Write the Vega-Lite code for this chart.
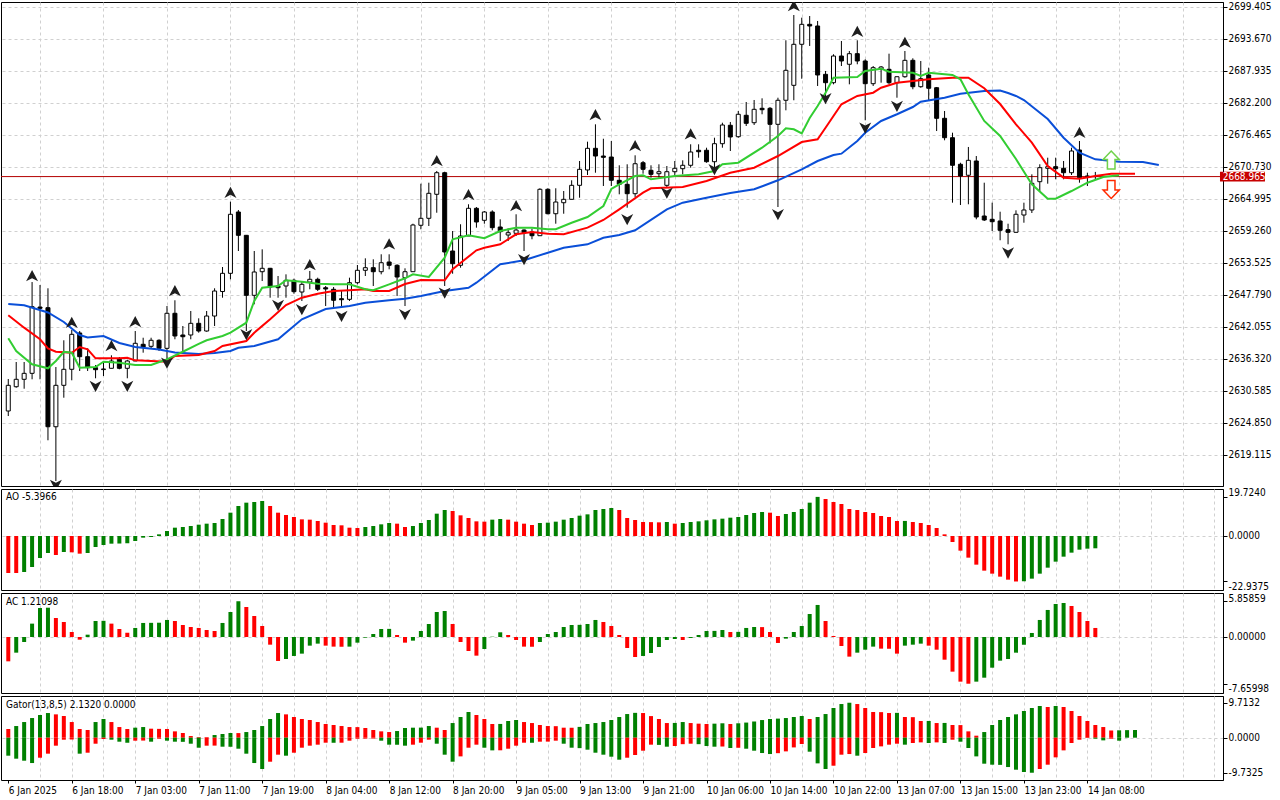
{
  "$schema": "https://vega.github.io/schema/vega-lite/v6.json",
  "background": "white",
  "padding": {"left": 0, "top": 1, "right": 0, "bottom": 0},
  "spacing": 3,
  "bounds": "flush",
  "config": {
    "view": {"stroke": "black", "strokeWidth": 1},
    "axis": {"labelFont": "DejaVu Sans Condensed, Liberation Sans, sans-serif", "labelFontSize": 10, "labelColor": "black", "domainColor": "black", "tickColor": "black", "gridColor": "#d0d0d0", "gridDash": [3, 3], "labelFlush": false, "labelOverlap": false, "labelSeparation": 0},
    "axisY": {"labelOverlap": false, "labelSeparation": 0},
    "axisQuantitative": {"labelOverlap": false},
    "locale": {"number": {"decimal": ".", "thousands": ",", "grouping": [3], "currency": ["$", ""], "minus": "-"}}
  },
  "resolve": {"scale": {"x": "independent", "y": "independent", "color": "independent", "shape": "independent", "stroke": "independent"}},
  "datasets": {
    "candles": [
      {"i":0,"o":2626.96,"h":2632.69,"l":2626.06,"c":2631.56},{"i":1,"o":2631.31,"h":2635.74,"l":2631.13,"c":2632.64},{"i":2,"o":2632.64,"h":2635.74,"l":2630.95,"c":2633.71},{"i":3,"o":2633.71,"h":2650.07,"l":2632.64,"c":2645.65},{"i":4,"o":2645.59,"h":2649.54,"l":2632.64,"c":2645.36},{"i":5,"o":2645.47,"h":2648.95,"l":2621.71,"c":2624.14},{"i":6,"o":2624.14,"h":2634.84,"l":2614.41,"c":2631.56},{"i":7,"o":2631.56,"h":2639.63,"l":2629.34,"c":2634.43},{"i":8,"o":2634.43,"h":2641.47,"l":2632.46,"c":2640.70},{"i":9,"o":2640.94,"h":2641.29,"l":2634.13,"c":2636.69},
      {"i":10,"o":2636.69,"h":2638.19,"l":2634.13,"c":2634.72},{"i":11,"o":2634.72,"h":2635.20,"l":2632.82,"c":2634.36},{"i":12,"o":2634.38,"h":2635.61,"l":2633.23,"c":2634.49},{"i":13,"o":2634.61,"h":2636.94,"l":2634.61,"c":2635.92},{"i":14,"o":2636.22,"h":2636.63,"l":2634.43,"c":2634.61},{"i":15,"o":2634.61,"h":2636.15,"l":2632.82,"c":2635.92},{"i":16,"o":2635.92,"h":2641.29,"l":2635.92,"c":2639.09},{"i":17,"o":2638.91,"h":2640.09,"l":2637.41,"c":2638.43},{"i":18,"o":2638.55,"h":2640.09,"l":2638.19,"c":2639.63},{"i":19,"o":2639.63,"h":2639.81,"l":2637.71,"c":2638.19},
      {"i":20,"o":2638.19,"h":2645.77,"l":2635.33,"c":2644.47},{"i":21,"o":2644.47,"h":2646.80,"l":2639.81,"c":2640.40},{"i":22,"o":2640.58,"h":2642.19,"l":2637.71,"c":2640.27},{"i":23,"o":2640.58,"h":2644.88,"l":2639.81,"c":2642.67},{"i":24,"o":2642.67,"h":2643.57,"l":2640.99,"c":2641.29},{"i":25,"o":2641.29,"h":2644.88,"l":2641.17,"c":2643.98},{"i":26,"o":2643.98,"h":2648.95,"l":2642.19,"c":2648.46},{"i":27,"o":2648.37,"h":2652.76,"l":2647.26,"c":2651.63},{"i":28,"o":2651.63,"h":2664.46,"l":2650.56,"c":2662.21},{"i":29,"o":2662.62,"h":2662.98,"l":2655.63,"c":2658.44},
      {"i":30,"o":2658.44,"h":2658.50,"l":2641.29,"c":2647.69},{"i":31,"o":2647.69,"h":2655.63,"l":2646.08,"c":2651.87},{"i":32,"o":2651.92,"h":2655.93,"l":2650.25,"c":2652.53},{"i":33,"o":2652.53,"h":2652.60,"l":2647.26,"c":2649.18},{"i":34,"o":2649.36,"h":2651.15,"l":2647.26,"c":2649.05},{"i":35,"o":2649.36,"h":2651.45,"l":2647.26,"c":2650.38},{"i":36,"o":2650.38,"h":2650.67,"l":2647.98,"c":2648.34},{"i":37,"o":2648.28,"h":2650.25,"l":2646.67,"c":2649.66},{"i":38,"o":2650.07,"h":2652.05,"l":2648.77,"c":2650.56},{"i":39,"o":2650.56,"h":2650.85,"l":2648.46,"c":2648.77},
      {"i":40,"o":2649.05,"h":2649.36,"l":2645.77,"c":2648.82},{"i":41,"o":2648.77,"h":2649.18,"l":2645.47,"c":2646.80},{"i":42,"o":2647.08,"h":2648.46,"l":2645.47,"c":2646.90},{"i":43,"o":2646.97,"h":2650.85,"l":2646.67,"c":2649.95},{"i":44,"o":2649.95,"h":2653.12,"l":2649.66,"c":2652.17},{"i":45,"o":2652.17,"h":2654.32,"l":2651.15,"c":2652.64},{"i":46,"o":2652.64,"h":2654.14,"l":2649.36,"c":2651.92},{"i":47,"o":2651.92,"h":2655.04,"l":2651.45,"c":2653.53},{"i":48,"o":2653.66,"h":2655.04,"l":2652.35,"c":2653.07},{"i":49,"o":2653.07,"h":2653.25,"l":2647.57,"c":2650.97},
      {"i":50,"o":2650.85,"h":2652.53,"l":2645.77,"c":2651.92},{"i":51,"o":2651.92,"h":2660.52,"l":2651.92,"c":2660.29},{"i":52,"o":2660.24,"h":2667.69,"l":2659.52,"c":2661.49},{"i":53,"o":2661.49,"h":2667.87,"l":2660.11,"c":2665.97},{"i":54,"o":2665.79,"h":2669.97,"l":2662.49,"c":2669.66},{"i":55,"o":2669.66,"h":2669.84,"l":2649.36,"c":2655.45},{"i":56,"o":2655.63,"h":2659.21,"l":2651.56,"c":2653.35},{"i":57,"o":2653.07,"h":2660.42,"l":2652.64,"c":2658.32},{"i":58,"o":2658.32,"h":2664.00,"l":2658.32,"c":2663.28},{"i":59,"o":2663.28,"h":2663.51,"l":2659.81,"c":2660.83},
      {"i":60,"o":2661.13,"h":2662.80,"l":2660.52,"c":2662.62},{"i":61,"o":2662.62,"h":2662.92,"l":2659.34,"c":2659.81},{"i":62,"o":2659.93,"h":2661.31,"l":2657.42,"c":2659.09},{"i":63,"o":2658.50,"h":2659.70,"l":2657.42,"c":2658.91},{"i":64,"o":2658.80,"h":2662.21,"l":2658.32,"c":2659.39},{"i":65,"o":2659.39,"h":2659.52,"l":2655.63,"c":2658.91},{"i":66,"o":2659.03,"h":2659.63,"l":2657.73,"c":2658.37},{"i":67,"o":2658.37,"h":2666.87,"l":2658.37,"c":2666.69},{"i":68,"o":2666.69,"h":2666.87,"l":2662.21,"c":2662.31},{"i":69,"o":2662.31,"h":2666.87,"l":2660.52,"c":2664.41},
      {"i":70,"o":2664.28,"h":2666.38,"l":2662.31,"c":2664.89},{"i":71,"o":2664.89,"h":2668.30,"l":2664.89,"c":2667.40},{"i":72,"o":2667.40,"h":2671.76,"l":2665.18,"c":2670.27},{"i":73,"o":2670.15,"h":2675.22,"l":2669.25,"c":2674.03},{"i":74,"o":2674.03,"h":2678.33,"l":2669.66,"c":2672.65},{"i":75,"o":2672.65,"h":2675.75,"l":2667.28,"c":2672.42},{"i":76,"o":2672.47,"h":2675.34,"l":2667.28,"c":2668.30},{"i":77,"o":2668.30,"h":2670.99,"l":2665.79,"c":2667.58},{"i":78,"o":2667.58,"h":2671.17,"l":2663.39,"c":2665.90},{"i":79,"o":2665.90,"h":2672.78,"l":2665.31,"c":2671.27},
      {"i":80,"o":2671.45,"h":2671.76,"l":2669.48,"c":2670.27},{"i":81,"o":2670.09,"h":2670.99,"l":2668.77,"c":2669.37},{"i":82,"o":2669.48,"h":2671.17,"l":2668.77,"c":2669.84},{"i":83,"o":2667.40,"h":2670.86,"l":2666.97,"c":2669.84},{"i":84,"o":2669.84,"h":2671.76,"l":2669.25,"c":2670.45},{"i":85,"o":2670.38,"h":2671.88,"l":2669.37,"c":2670.99},{"i":86,"o":2670.99,"h":2674.75,"l":2670.56,"c":2673.37},{"i":87,"o":2673.68,"h":2674.75,"l":2672.35,"c":2673.42},{"i":88,"o":2673.68,"h":2674.14,"l":2671.45,"c":2671.63},{"i":89,"o":2671.63,"h":2675.93,"l":2669.97,"c":2674.86},
      {"i":90,"o":2674.86,"h":2678.62,"l":2674.14,"c":2678.21},{"i":91,"o":2678.16,"h":2678.75,"l":2673.55,"c":2676.06},{"i":92,"o":2676.11,"h":2680.72,"l":2675.93,"c":2680.13},{"i":93,"o":2679.95,"h":2682.33,"l":2678.03,"c":2678.51},{"i":94,"o":2678.62,"h":2682.69,"l":2678.21,"c":2681.02},{"i":95,"o":2681.20,"h":2682.99,"l":2680.13,"c":2680.95},{"i":96,"o":2681.20,"h":2681.43,"l":2674.93,"c":2678.33},{"i":97,"o":2678.33,"h":2683.10,"l":2663.51,"c":2682.64},{"i":98,"o":2682.64,"h":2693.39,"l":2680.84,"c":2688.01},{"i":99,"o":2685.32,"h":2697.92,"l":2682.64,"c":2692.67},
      {"i":100,"o":2692.67,"h":2697.44,"l":2686.50,"c":2696.25},{"i":101,"o":2696.25,"h":2697.74,"l":2692.37,"c":2695.95},{"i":102,"o":2695.95,"h":2696.85,"l":2685.20,"c":2687.17},{"i":103,"o":2687.29,"h":2687.89,"l":2682.51,"c":2685.79},{"i":104,"o":2685.79,"h":2690.88,"l":2685.50,"c":2690.57},{"i":105,"o":2690.57,"h":2693.26,"l":2688.78,"c":2689.68},{"i":106,"o":2689.09,"h":2691.47,"l":2685.50,"c":2690.99},{"i":107,"o":2690.99,"h":2693.39,"l":2689.09,"c":2689.68},{"i":108,"o":2689.68,"h":2689.98,"l":2679.05,"c":2685.61},{"i":109,"o":2685.61,"h":2688.78,"l":2685.20,"c":2688.48},
      {"i":110,"o":2688.19,"h":2688.78,"l":2685.79,"c":2688.60},{"i":111,"o":2688.19,"h":2690.99,"l":2685.50,"c":2685.79},{"i":112,"o":2685.79,"h":2686.90,"l":2683.10,"c":2686.86},{"i":113,"o":2686.86,"h":2691.47,"l":2686.69,"c":2689.80},{"i":114,"o":2689.80,"h":2690.16,"l":2684.61,"c":2685.07},{"i":115,"o":2685.07,"h":2689.68,"l":2684.89,"c":2686.51},{"i":116,"o":2687.17,"h":2688.48,"l":2682.51,"c":2684.79},{"i":117,"o":2684.89,"h":2685.02,"l":2677.13,"c":2679.41},{"i":118,"o":2679.41,"h":2680.72,"l":2675.47,"c":2675.93},{"i":119,"o":2675.93,"h":2676.83,"l":2664.29,"c":2670.99},
      {"i":120,"o":2671.17,"h":2671.45,"l":2663.87,"c":2669.07},{"i":121,"o":2669.20,"h":2674.27,"l":2664.00,"c":2671.88},{"i":122,"o":2671.76,"h":2672.65,"l":2661.31,"c":2661.72},{"i":123,"o":2661.90,"h":2667.87,"l":2661.01,"c":2661.19},{"i":124,"o":2661.31,"h":2664.29,"l":2659.21,"c":2660.88},{"i":125,"o":2661.01,"h":2662.67,"l":2657.55,"c":2659.34},{"i":126,"o":2659.45,"h":2660.52,"l":2656.83,"c":2658.98},{"i":127,"o":2658.98,"h":2662.92,"l":2658.91,"c":2662.21},{"i":128,"o":2662.08,"h":2664.29,"l":2660.70,"c":2662.98},{"i":129,"o":2662.98,"h":2669.37,"l":2662.44,"c":2667.76},
      {"i":130,"o":2668.05,"h":2671.17,"l":2666.26,"c":2670.56},{"i":131,"o":2670.45,"h":2672.35,"l":2667.69,"c":2670.74},{"i":132,"o":2670.74,"h":2672.35,"l":2668.48,"c":2670.38},{"i":133,"o":2670.45,"h":2671.76,"l":2668.48,"c":2669.66},{"i":134,"o":2669.66,"h":2674.14,"l":2669.25,"c":2673.55},{"i":135,"o":2673.73,"h":2675.34,"l":2667.87,"c":2668.77},{"i":136,"o":2669.07,"h":2669.66,"l":2667.28,"c":2669.00},{"i":137,"o":2668.98,"h":2669.80,"l":2668.50,"c":2668.965}
    ],
    "alligator": [
      {"line":"jaw","i":0,"v":2646.13},{"line":"jaw","i":2,"v":2645.90},{"line":"jaw","i":5,"v":2644.61},{"line":"jaw","i":7,"v":2642.91},{"line":"jaw","i":9,"v":2640.58},{"line":"jaw","i":10,"v":2640.13},{"line":"jaw","i":12,"v":2640.40},{"line":"jaw","i":14,"v":2639.14},{"line":"jaw","i":16,"v":2638.43},{"line":"jaw","i":19,"v":2637.98},{"line":"jaw","i":21,"v":2637.44},{"line":"jaw","i":24,"v":2637.17},{"line":"jaw","i":26,"v":2637.35},{"line":"jaw","i":28,"v":2637.71},{"line":"jaw","i":29,"v":2638.30},{"line":"jaw","i":31,"v":2638.61},{"line":"jaw","i":34,"v":2639.81},{"line":"jaw","i":37,"v":2643.39},{"line":"jaw","i":40,"v":2645.24},{"line":"jaw","i":43,"v":2645.77},{"line":"jaw","i":45,"v":2646.37},{"line":"jaw","i":48,"v":2646.80},{"line":"jaw","i":50,"v":2647.08},{"line":"jaw","i":52,"v":2647.57},{"line":"jaw","i":55,"v":2648.46},{"line":"jaw","i":58,"v":2649.05},{"line":"jaw","i":59,"v":2649.95},{"line":"jaw","i":62,"v":2653.25},{"line":"jaw","i":65,"v":2653.96},{"line":"jaw","i":68,"v":2655.33},{"line":"jaw","i":70,"v":2656.22},{"line":"jaw","i":73,"v":2656.83},{"line":"jaw","i":75,"v":2658.01},{"line":"jaw","i":77,"v":2658.50},{"line":"jaw","i":79,"v":2659.34},{"line":"jaw","i":83,"v":2663.10},{"line":"jaw","i":85,"v":2664.29},{"line":"jaw","i":88,"v":2665.18},{"line":"jaw","i":91,"v":2666.02},{"line":"jaw","i":94,"v":2666.69},{"line":"jaw","i":97,"v":2668.30},{"line":"jaw","i":100,"v":2670.27},{"line":"jaw","i":102,"v":2671.76},{"line":"jaw","i":104,"v":2672.83},{"line":"jaw","i":105,"v":2673.07},{"line":"jaw","i":107,"v":2675.34},{"line":"jaw","i":108,"v":2676.83},{"line":"jaw","i":110,"v":2678.93},{"line":"jaw","i":112,"v":2680.13},{"line":"jaw","i":114,"v":2681.43},{"line":"jaw","i":115,"v":2682.39},{"line":"jaw","i":118,"v":2683.10},{"line":"jaw","i":120,"v":2683.82},{"line":"jaw","i":123,"v":2684.30},{"line":"jaw","i":125,"v":2684.39},{"line":"jaw","i":126,"v":2683.94},{"line":"jaw","i":127,"v":2683.41},{"line":"jaw","i":128,"v":2682.69},{"line":"jaw","i":131,"v":2679.28},{"line":"jaw","i":133,"v":2675.93},{"line":"jaw","i":135,"v":2673.25},{"line":"jaw","i":137,"v":2672.06},{"line":"jaw","i":140,"v":2671.63},{"line":"jaw","i":143,"v":2671.58},{"line":"jaw","i":145,"v":2671.04},
      {"line":"teeth","i":0,"v":2644.11},{"line":"teeth","i":2,"v":2641.89},{"line":"teeth","i":4,"v":2639.81},{"line":"teeth","i":5,"v":2638.19},{"line":"teeth","i":6,"v":2637.58},{"line":"teeth","i":8,"v":2637.40},{"line":"teeth","i":9,"v":2638.43},{"line":"teeth","i":10,"v":2638.01},{"line":"teeth","i":11,"v":2636.40},{"line":"teeth","i":14,"v":2636.40},{"line":"teeth","i":15,"v":2636.51},{"line":"teeth","i":16,"v":2636.04},{"line":"teeth","i":18,"v":2635.92},{"line":"teeth","i":20,"v":2635.79},{"line":"teeth","i":21,"v":2636.82},{"line":"teeth","i":24,"v":2637.00},{"line":"teeth","i":26,"v":2637.71},{"line":"teeth","i":27,"v":2638.61},{"line":"teeth","i":30,"v":2639.50},{"line":"teeth","i":31,"v":2640.99},{"line":"teeth","i":33,"v":2643.39},{"line":"teeth","i":35,"v":2645.95},{"line":"teeth","i":37,"v":2647.26},{"line":"teeth","i":39,"v":2647.98},{"line":"teeth","i":41,"v":2648.46},{"line":"teeth","i":43,"v":2648.59},{"line":"teeth","i":45,"v":2648.77},{"line":"teeth","i":46,"v":2648.46},{"line":"teeth","i":48,"v":2648.46},{"line":"teeth","i":50,"v":2649.72},{"line":"teeth","i":52,"v":2650.43},{"line":"teeth","i":55,"v":2650.38},{"line":"teeth","i":56,"v":2652.35},{"line":"teeth","i":59,"v":2655.75},{"line":"teeth","i":60,"v":2656.22},{"line":"teeth","i":62,"v":2656.83},{"line":"teeth","i":64,"v":2658.62},{"line":"teeth","i":66,"v":2659.04},{"line":"teeth","i":68,"v":2658.73},{"line":"teeth","i":70,"v":2658.62},{"line":"teeth","i":73,"v":2659.81},{"line":"teeth","i":75,"v":2661.19},{"line":"teeth","i":77,"v":2663.10},{"line":"teeth","i":80,"v":2666.08},{"line":"teeth","i":81,"v":2666.87},{"line":"teeth","i":85,"v":2667.10},{"line":"teeth","i":88,"v":2668.17},{"line":"teeth","i":91,"v":2669.66},{"line":"teeth","i":94,"v":2670.56},{"line":"teeth","i":97,"v":2672.65},{"line":"teeth","i":100,"v":2675.16},{"line":"teeth","i":102,"v":2675.65},{"line":"teeth","i":103,"v":2677.72},{"line":"teeth","i":105,"v":2681.92},{"line":"teeth","i":107,"v":2683.41},{"line":"teeth","i":109,"v":2684.00},{"line":"teeth","i":110,"v":2684.89},{"line":"teeth","i":112,"v":2685.79},{"line":"teeth","i":114,"v":2686.09},{"line":"teeth","i":116,"v":2686.40},{"line":"teeth","i":119,"v":2686.69},{"line":"teeth","i":121,"v":2686.69},{"line":"teeth","i":123,"v":2684.79},{"line":"teeth","i":125,"v":2681.97},{"line":"teeth","i":127,"v":2678.33},{"line":"teeth","i":129,"v":2675.04},{"line":"teeth","i":131,"v":2670.86},{"line":"teeth","i":133,"v":2668.77},{"line":"teeth","i":135,"v":2668.59},{"line":"teeth","i":137,"v":2669.07},{"line":"teeth","i":139,"v":2669.48},{"line":"teeth","i":142,"v":2669.48},
      {"line":"lips","i":0,"v":2639.99},{"line":"lips","i":1,"v":2637.71},{"line":"lips","i":3,"v":2635.33},{"line":"lips","i":5,"v":2634.61},{"line":"lips","i":6,"v":2635.92},{"line":"lips","i":7,"v":2637.58},{"line":"lips","i":8,"v":2637.40},{"line":"lips","i":9,"v":2634.72},{"line":"lips","i":11,"v":2634.84},{"line":"lips","i":12,"v":2635.79},{"line":"lips","i":14,"v":2635.61},{"line":"lips","i":16,"v":2635.20},{"line":"lips","i":18,"v":2635.20},{"line":"lips","i":20,"v":2636.22},{"line":"lips","i":22,"v":2637.58},{"line":"lips","i":24,"v":2638.97},{"line":"lips","i":25,"v":2639.63},{"line":"lips","i":27,"v":2640.40},{"line":"lips","i":28,"v":2640.99},{"line":"lips","i":30,"v":2642.78},{"line":"lips","i":31,"v":2646.67},{"line":"lips","i":32,"v":2649.05},{"line":"lips","i":34,"v":2649.36},{"line":"lips","i":35,"v":2650.38},{"line":"lips","i":37,"v":2650.13},{"line":"lips","i":39,"v":2649.77},{"line":"lips","i":41,"v":2649.66},{"line":"lips","i":43,"v":2649.66},{"line":"lips","i":45,"v":2648.77},{"line":"lips","i":46,"v":2648.59},{"line":"lips","i":48,"v":2649.66},{"line":"lips","i":50,"v":2650.74},{"line":"lips","i":51,"v":2651.45},{"line":"lips","i":53,"v":2650.97},{"line":"lips","i":55,"v":2654.43},{"line":"lips","i":56,"v":2657.73},{"line":"lips","i":58,"v":2658.44},{"line":"lips","i":60,"v":2657.91},{"line":"lips","i":62,"v":2659.21},{"line":"lips","i":64,"v":2659.81},{"line":"lips","i":66,"v":2659.81},{"line":"lips","i":68,"v":2659.52},{"line":"lips","i":69,"v":2659.52},{"line":"lips","i":71,"v":2660.70},{"line":"lips","i":73,"v":2661.72},{"line":"lips","i":75,"v":2663.69},{"line":"lips","i":76,"v":2666.74},{"line":"lips","i":77,"v":2667.58},{"line":"lips","i":79,"v":2669.07},{"line":"lips","i":80,"v":2669.20},{"line":"lips","i":81,"v":2668.48},{"line":"lips","i":84,"v":2669.07},{"line":"lips","i":87,"v":2669.37},{"line":"lips","i":89,"v":2669.97},{"line":"lips","i":90,"v":2671.17},{"line":"lips","i":92,"v":2671.45},{"line":"lips","i":95,"v":2674.14},{"line":"lips","i":97,"v":2676.24},{"line":"lips","i":98,"v":2677.62},{"line":"lips","i":99,"v":2677.44},{"line":"lips","i":100,"v":2676.69},{"line":"lips","i":101,"v":2679.46},{"line":"lips","i":102,"v":2681.61},{"line":"lips","i":103,"v":2684.00},{"line":"lips","i":104,"v":2686.69},{"line":"lips","i":107,"v":2686.81},{"line":"lips","i":108,"v":2687.89},{"line":"lips","i":110,"v":2688.30},{"line":"lips","i":111,"v":2687.76},{"line":"lips","i":114,"v":2687.58},{"line":"lips","i":115,"v":2686.99},{"line":"lips","i":116,"v":2687.58},{"line":"lips","i":119,"v":2687.17},{"line":"lips","i":120,"v":2686.40},{"line":"lips","i":121,"v":2683.71},{"line":"lips","i":123,"v":2678.93},{"line":"lips","i":125,"v":2676.24},{"line":"lips","i":127,"v":2672.11},{"line":"lips","i":129,"v":2667.58},{"line":"lips","i":131,"v":2665.00},{"line":"lips","i":132,"v":2665.00},{"line":"lips","i":134,"v":2666.38},{"line":"lips","i":136,"v":2667.87},{"line":"lips","i":138,"v":2668.89},{"line":"lips","i":140,"v":2669.20}
    ],
    "fractals": [
      {"i":3,"p":2651.15,"dir":"up"},{"i":8,"p":2642.78,"dir":"up"},{"i":13,"p":2638.61,"dir":"up"},{"i":16,"p":2642.91,"dir":"up"},{"i":21,"p":2648.46,"dir":"up"},{"i":28,"p":2666.08,"dir":"up"},{"i":38,"p":2653.12,"dir":"up"},{"i":48,"p":2656.83,"dir":"up"},{"i":54,"p":2671.76,"dir":"up"},{"i":58,"p":2665.67,"dir":"up"},{"i":64,"p":2663.69,"dir":"up"},{"i":74,"p":2680.00,"dir":"up"},{"i":79,"p":2674.45,"dir":"up"},{"i":86,"p":2676.54,"dir":"up"},{"i":99,"p":2699.53,"dir":"up"},{"i":107,"p":2694.93,"dir":"up"},{"i":113,"p":2692.96,"dir":"up"},{"i":135,"p":2676.83,"dir":"up"},
      {"i":6,"p":2613.70,"dir":"down"},{"i":11,"p":2631.44,"dir":"down"},{"i":15,"p":2631.44,"dir":"down"},{"i":20,"p":2635.61,"dir":"down"},{"i":30,"p":2640.70,"dir":"down"},{"i":34,"p":2645.95,"dir":"down"},{"i":37,"p":2645.18,"dir":"down"},{"i":42,"p":2643.98,"dir":"down"},{"i":50,"p":2644.29,"dir":"down"},{"i":55,"p":2648.16,"dir":"down"},{"i":65,"p":2654.14,"dir":"down"},{"i":78,"p":2661.31,"dir":"down"},{"i":83,"p":2666.08,"dir":"down"},{"i":89,"p":2670.27,"dir":"down"},{"i":97,"p":2662.21,"dir":"down"},{"i":103,"p":2682.99,"dir":"down"},{"i":108,"p":2677.72,"dir":"down"},{"i":112,"p":2681.61,"dir":"down"},{"i":126,"p":2655.33,"dir":"down"}
    ],
    "signals": [{"i":139,"p":2671.94,"dir":"buy"},{"i":139,"p":2666.65,"dir":"sell"}],
    "bid": [{"p":2668.965}],
    "ao": [
      {"i":0,"v":-18.66,"c":"r"},{"i":1,"v":-18.66,"c":"r"},{"i":2,"v":-18.15,"c":"g"},{"i":3,"v":-15.63,"c":"g"},{"i":4,"v":-11.09,"c":"g"},{"i":5,"v":-8.57,"c":"g"},{"i":6,"v":-9.58,"c":"r"},{"i":7,"v":-8.07,"c":"g"},{"i":8,"v":-8.24,"c":"r"},{"i":9,"v":-8.91,"c":"r"},{"i":10,"v":-8.57,"c":"g"},{"i":11,"v":-5.55,"c":"g"},{"i":12,"v":-4.54,"c":"g"},{"i":13,"v":-3.87,"c":"g"},{"i":14,"v":-3.80,"c":"g"},{"i":15,"v":-3.70,"c":"g"},{"i":16,"v":-2.52,"c":"g"},{"i":17,"v":-0.84,"c":"g"},{"i":18,"v":-0.50,"c":"g"},{"i":19,"v":0.84,"c":"g"},{"i":20,"v":2.52,"c":"g"},{"i":21,"v":4.20,"c":"g"},{"i":22,"v":4.54,"c":"g"},{"i":23,"v":5.04,"c":"g"},{"i":24,"v":5.71,"c":"g"},{"i":25,"v":6.22,"c":"g"},{"i":26,"v":6.55,"c":"g"},{"i":27,"v":8.57,"c":"g"},{"i":28,"v":11.76,"c":"g"},{"i":29,"v":15.13,"c":"g"},
      {"i":30,"v":16.81,"c":"g"},{"i":31,"v":17.14,"c":"g"},{"i":32,"v":17.65,"c":"g"},{"i":33,"v":15.13,"c":"r"},{"i":34,"v":11.76,"c":"r"},{"i":35,"v":10.59,"c":"r"},{"i":36,"v":9.58,"c":"r"},{"i":37,"v":8.40,"c":"r"},{"i":38,"v":8.24,"c":"r"},{"i":39,"v":7.56,"c":"r"},{"i":40,"v":6.72,"c":"r"},{"i":41,"v":5.55,"c":"r"},{"i":42,"v":5.38,"c":"r"},{"i":43,"v":4.20,"c":"r"},{"i":44,"v":4.03,"c":"r"},{"i":45,"v":4.54,"c":"g"},{"i":46,"v":5.04,"c":"g"},{"i":47,"v":5.88,"c":"g"},{"i":48,"v":6.55,"c":"g"},{"i":49,"v":6.22,"c":"r"},{"i":50,"v":4.54,"c":"r"},{"i":51,"v":5.04,"c":"g"},{"i":52,"v":6.55,"c":"g"},{"i":53,"v":8.07,"c":"g"},{"i":54,"v":11.26,"c":"g"},{"i":55,"v":13.11,"c":"g"},{"i":56,"v":12.61,"c":"r"},{"i":57,"v":10.42,"c":"r"},{"i":58,"v":9.08,"c":"r"},{"i":59,"v":7.39,"c":"r"},
      {"i":60,"v":7.23,"c":"r"},{"i":61,"v":8.24,"c":"g"},{"i":62,"v":8.57,"c":"g"},{"i":63,"v":8.24,"c":"r"},{"i":64,"v":7.23,"c":"r"},{"i":65,"v":6.22,"c":"r"},{"i":66,"v":5.55,"c":"r"},{"i":67,"v":6.55,"c":"g"},{"i":68,"v":6.72,"c":"g"},{"i":69,"v":7.23,"c":"g"},{"i":70,"v":8.24,"c":"g"},{"i":71,"v":9.08,"c":"g"},{"i":72,"v":10.25,"c":"g"},{"i":73,"v":10.92,"c":"g"},{"i":74,"v":13.11,"c":"g"},{"i":75,"v":13.61,"c":"g"},{"i":76,"v":14.12,"c":"g"},{"i":77,"v":13.11,"c":"r"},{"i":78,"v":9.08,"c":"r"},{"i":79,"v":8.07,"c":"r"},{"i":80,"v":7.06,"c":"r"},{"i":81,"v":7.00,"c":"r"},{"i":82,"v":6.89,"c":"r"},{"i":83,"v":7.06,"c":"g"},{"i":84,"v":6.22,"c":"r"},{"i":85,"v":6.55,"c":"g"},{"i":86,"v":7.06,"c":"g"},{"i":87,"v":7.39,"c":"g"},{"i":88,"v":7.90,"c":"g"},{"i":89,"v":8.40,"c":"g"},
      {"i":90,"v":8.74,"c":"g"},{"i":91,"v":9.24,"c":"g"},{"i":92,"v":9.58,"c":"g"},{"i":93,"v":10.59,"c":"g"},{"i":94,"v":11.60,"c":"g"},{"i":95,"v":12.10,"c":"g"},{"i":96,"v":11.76,"c":"r"},{"i":97,"v":10.08,"c":"r"},{"i":98,"v":11.09,"c":"g"},{"i":99,"v":12.10,"c":"g"},{"i":100,"v":13.61,"c":"g"},{"i":101,"v":16.81,"c":"g"},{"i":102,"v":19.72,"c":"g"},{"i":103,"v":18.66,"c":"r"},{"i":104,"v":17.14,"c":"r"},{"i":105,"v":16.13,"c":"r"},{"i":106,"v":13.61,"c":"r"},{"i":107,"v":13.11,"c":"r"},{"i":108,"v":12.10,"c":"r"},{"i":109,"v":11.60,"c":"r"},{"i":110,"v":10.08,"c":"r"},{"i":111,"v":9.58,"c":"r"},{"i":112,"v":7.56,"c":"r"},{"i":113,"v":7.60,"c":"g"},{"i":114,"v":7.06,"c":"r"},{"i":115,"v":6.55,"c":"r"},{"i":116,"v":5.55,"c":"r"},{"i":117,"v":4.03,"c":"r"},{"i":118,"v":0.84,"c":"r"},{"i":119,"v":-3.03,"c":"r"},
      {"i":120,"v":-7.39,"c":"r"},{"i":121,"v":-10.92,"c":"r"},{"i":122,"v":-14.45,"c":"r"},{"i":123,"v":-17.48,"c":"r"},{"i":124,"v":-18.99,"c":"r"},{"i":125,"v":-20.50,"c":"r"},{"i":126,"v":-22.02,"c":"r"},{"i":127,"v":-22.94,"c":"r"},{"i":128,"v":-22.80,"c":"g"},{"i":129,"v":-21.51,"c":"g"},{"i":130,"v":-18.99,"c":"g"},{"i":131,"v":-15.97,"c":"g"},{"i":132,"v":-12.94,"c":"g"},{"i":133,"v":-10.42,"c":"g"},{"i":134,"v":-8.40,"c":"g"},{"i":135,"v":-6.89,"c":"g"},{"i":136,"v":-6.39,"c":"g"},{"i":137,"v":-6.20,"c":"g"}
    ],
    "ac": [
      {"i":0,"v":-3.99,"c":"r"},{"i":1,"v":-2.57,"c":"g"},{"i":2,"v":-0.82,"c":"g"},{"i":3,"v":2.19,"c":"g"},{"i":4,"v":4.75,"c":"g"},{"i":5,"v":4.80,"c":"g"},{"i":6,"v":3.11,"c":"r"},{"i":7,"v":2.46,"c":"r"},{"i":8,"v":0.82,"c":"r"},{"i":9,"v":-0.44,"c":"r"},{"i":10,"v":0.38,"c":"g"},{"i":11,"v":2.62,"c":"g"},{"i":12,"v":2.65,"c":"g"},{"i":13,"v":2.19,"c":"r"},{"i":14,"v":1.31,"c":"r"},{"i":15,"v":0.71,"c":"r"},{"i":16,"v":1.48,"c":"g"},{"i":17,"v":2.30,"c":"g"},{"i":18,"v":2.32,"c":"g"},{"i":19,"v":2.34,"c":"g"},{"i":20,"v":2.79,"c":"g"},{"i":21,"v":2.62,"c":"r"},{"i":22,"v":1.97,"c":"r"},{"i":23,"v":1.64,"c":"r"},{"i":24,"v":1.48,"c":"r"},{"i":25,"v":1.15,"c":"r"},{"i":26,"v":0.98,"c":"r"},{"i":27,"v":2.30,"c":"g"},{"i":28,"v":4.10,"c":"g"},{"i":29,"v":5.86,"c":"g"},
      {"i":30,"v":4.92,"c":"r"},{"i":31,"v":3.44,"c":"r"},{"i":32,"v":1.80,"c":"r"},{"i":33,"v":-1.26,"c":"r"},{"i":34,"v":-3.93,"c":"r"},{"i":35,"v":-3.61,"c":"g"},{"i":36,"v":-3.11,"c":"g"},{"i":37,"v":-2.73,"c":"g"},{"i":38,"v":-1.42,"c":"g"},{"i":39,"v":-1.09,"c":"g"},{"i":40,"v":-1.42,"c":"r"},{"i":41,"v":-1.58,"c":"r"},{"i":42,"v":-1.60,"c":"r"},{"i":43,"v":-1.58,"c":"g"},{"i":44,"v":-0.93,"c":"g"},{"i":45,"v":-0.11,"c":"g"},{"i":46,"v":0.49,"c":"g"},{"i":47,"v":1.31,"c":"g"},{"i":48,"v":1.33,"c":"g"},{"i":49,"v":0.33,"c":"r"},{"i":50,"v":-0.93,"c":"r"},{"i":51,"v":-0.60,"c":"g"},{"i":52,"v":0.98,"c":"g"},{"i":53,"v":2.13,"c":"g"},{"i":54,"v":4.10,"c":"g"},{"i":55,"v":4.26,"c":"g"},{"i":56,"v":2.13,"c":"r"},{"i":57,"v":-0.82,"c":"r"},{"i":58,"v":-2.30,"c":"r"},{"i":59,"v":-3.06,"c":"r"},
      {"i":60,"v":-1.97,"c":"g"},{"i":61,"v":0.05,"c":"g"},{"i":62,"v":0.77,"c":"g"},{"i":63,"v":0.33,"c":"r"},{"i":64,"v":-0.49,"c":"r"},{"i":65,"v":-1.58,"c":"r"},{"i":66,"v":-1.60,"c":"r"},{"i":67,"v":-0.82,"c":"g"},{"i":68,"v":0.49,"c":"g"},{"i":69,"v":0.82,"c":"g"},{"i":70,"v":1.64,"c":"g"},{"i":71,"v":1.97,"c":"g"},{"i":72,"v":1.99,"c":"g"},{"i":73,"v":2.13,"c":"g"},{"i":74,"v":2.79,"c":"g"},{"i":75,"v":2.46,"c":"r"},{"i":76,"v":1.80,"c":"r"},{"i":77,"v":0.33,"c":"r"},{"i":78,"v":-1.80,"c":"r"},{"i":79,"v":-3.28,"c":"r"},{"i":80,"v":-3.11,"c":"g"},{"i":81,"v":-2.62,"c":"g"},{"i":82,"v":-1.64,"c":"g"},{"i":83,"v":-0.49,"c":"g"},{"i":84,"v":-0.33,"c":"g"},{"i":85,"v":-0.49,"c":"r"},{"i":86,"v":-0.16,"c":"g"},{"i":87,"v":0.33,"c":"g"},{"i":88,"v":0.98,"c":"g"},{"i":89,"v":1.00,"c":"g"},
      {"i":90,"v":1.15,"c":"g"},{"i":91,"v":0.82,"c":"r"},{"i":92,"v":0.84,"c":"g"},{"i":93,"v":1.48,"c":"g"},{"i":94,"v":1.64,"c":"g"},{"i":95,"v":1.62,"c":"r"},{"i":96,"v":0.82,"c":"r"},{"i":97,"v":-0.98,"c":"r"},{"i":98,"v":-0.27,"c":"g"},{"i":99,"v":0.82,"c":"g"},{"i":100,"v":1.80,"c":"g"},{"i":101,"v":3.77,"c":"g"},{"i":102,"v":5.25,"c":"g"},{"i":103,"v":2.62,"c":"r"},{"i":104,"v":0.16,"c":"r"},{"i":105,"v":-1.48,"c":"r"},{"i":106,"v":-3.22,"c":"r"},{"i":107,"v":-2.57,"c":"g"},{"i":108,"v":-2.08,"c":"g"},{"i":109,"v":-1.58,"c":"g"},{"i":110,"v":-1.91,"c":"r"},{"i":111,"v":-1.93,"c":"r"},{"i":112,"v":-2.73,"c":"r"},{"i":113,"v":-1.42,"c":"g"},{"i":114,"v":-1.26,"c":"g"},{"i":115,"v":-1.09,"c":"g"},{"i":116,"v":-1.42,"c":"r"},{"i":117,"v":-2.08,"c":"r"},{"i":118,"v":-3.72,"c":"r"},{"i":119,"v":-5.68,"c":"r"},
      {"i":120,"v":-7.32,"c":"r"},{"i":121,"v":-7.66,"c":"r"},{"i":122,"v":-7.32,"c":"g"},{"i":123,"v":-6.67,"c":"g"},{"i":124,"v":-5.03,"c":"g"},{"i":125,"v":-3.88,"c":"g"},{"i":126,"v":-3.61,"c":"g"},{"i":127,"v":-2.57,"c":"g"},{"i":128,"v":-1.26,"c":"g"},{"i":129,"v":0.66,"c":"g"},{"i":130,"v":2.79,"c":"g"},{"i":131,"v":4.43,"c":"g"},{"i":132,"v":5.41,"c":"g"},{"i":133,"v":5.57,"c":"g"},{"i":134,"v":5.08,"c":"r"},{"i":135,"v":4.10,"c":"r"},{"i":136,"v":2.62,"c":"r"},{"i":137,"v":1.48,"c":"r"}
    ],
    "gator": [
      {"i":0,"u":2.41,"uc":"r","d":-5.00,"dc":"g"},{"i":1,"u":3.24,"uc":"g","d":-5.83,"dc":"g"},{"i":2,"u":4.35,"uc":"g","d":-6.39,"dc":"g"},{"i":3,"u":5.46,"uc":"g","d":-7.04,"dc":"g"},{"i":4,"u":6.30,"uc":"g","d":-5.56,"dc":"r"},{"i":5,"u":6.85,"uc":"g","d":-4.44,"dc":"r"},{"i":6,"u":6.48,"uc":"r","d":-2.22,"dc":"r"},{"i":7,"u":6.02,"uc":"r","d":-0.56,"dc":"r"},{"i":8,"u":4.35,"uc":"r","d":-0.50,"dc":"r"},{"i":9,"u":2.41,"uc":"r","d":-4.44,"dc":"g"},
      {"i":10,"u":2.13,"uc":"r","d":-4.17,"dc":"r"},{"i":11,"u":4.35,"uc":"g","d":-1.67,"dc":"r"},{"i":12,"u":5.19,"uc":"g","d":-0.37,"dc":"r"},{"i":13,"u":4.35,"uc":"r","d":-0.56,"dc":"g"},{"i":14,"u":2.96,"uc":"r","d":-1.11,"dc":"g"},{"i":15,"u":2.41,"uc":"r","d":-1.39,"dc":"g"},{"i":16,"u":2.78,"uc":"g","d":-0.83,"dc":"r"},{"i":17,"u":2.96,"uc":"g","d":-0.80,"dc":"r"},{"i":18,"u":2.50,"uc":"r","d":-1.11,"dc":"g"},{"i":19,"u":2.45,"uc":"r","d":-0.28,"dc":"r"},
      {"i":20,"u":2.41,"uc":"r","d":-0.83,"dc":"g"},{"i":21,"u":1.76,"uc":"r","d":-1.11,"dc":"g"},{"i":22,"u":1.30,"uc":"r","d":-1.15,"dc":"g"},{"i":23,"u":0.46,"uc":"r","d":-1.67,"dc":"g"},{"i":24,"u":0.19,"uc":"r","d":-2.78,"dc":"g"},{"i":25,"u":0.17,"uc":"r","d":-2.22,"dc":"r"},{"i":26,"u":0.74,"uc":"g","d":-2.20,"dc":"r"},{"i":27,"u":1.02,"uc":"g","d":-2.50,"dc":"g"},{"i":28,"u":1.30,"uc":"g","d":-2.52,"dc":"g"},{"i":29,"u":1.28,"uc":"r","d":-3.06,"dc":"g"},
      {"i":30,"u":1.57,"uc":"g","d":-4.44,"dc":"g"},{"i":31,"u":2.13,"uc":"g","d":-7.04,"dc":"g"},{"i":32,"u":3.24,"uc":"g","d":-8.70,"dc":"g"},{"i":33,"u":5.19,"uc":"g","d":-6.67,"dc":"r"},{"i":34,"u":6.85,"uc":"g","d":-4.72,"dc":"r"},{"i":35,"u":6.48,"uc":"r","d":-5.00,"dc":"g"},{"i":36,"u":5.74,"uc":"r","d":-4.17,"dc":"r"},{"i":37,"u":5.19,"uc":"r","d":-2.78,"dc":"r"},{"i":38,"u":4.91,"uc":"r","d":-2.22,"dc":"r"},{"i":39,"u":4.35,"uc":"r","d":-1.94,"dc":"r"},
      {"i":40,"u":3.80,"uc":"r","d":-1.39,"dc":"r"},{"i":41,"u":3.52,"uc":"r","d":-1.41,"dc":"g"},{"i":42,"u":3.24,"uc":"r","d":-1.39,"dc":"r"},{"i":43,"u":2.96,"uc":"r","d":-0.83,"dc":"r"},{"i":44,"u":2.94,"uc":"r","d":-0.28,"dc":"r"},{"i":45,"u":2.69,"uc":"r","d":-0.26,"dc":"r"},{"i":46,"u":2.13,"uc":"r","d":-0.24,"dc":"r"},{"i":47,"u":1.76,"uc":"r","d":-0.83,"dc":"g"},{"i":48,"u":1.57,"uc":"r","d":-1.94,"dc":"g"},{"i":49,"u":1.85,"uc":"g","d":-1.96,"dc":"g"},
      {"i":50,"u":2.69,"uc":"g","d":-2.22,"dc":"g"},{"i":51,"u":2.78,"uc":"g","d":-1.94,"dc":"r"},{"i":52,"u":2.80,"uc":"g","d":-1.39,"dc":"r"},{"i":53,"u":3.24,"uc":"g","d":-0.56,"dc":"r"},{"i":54,"u":2.78,"uc":"r","d":-1.67,"dc":"g"},{"i":55,"u":2.13,"uc":"r","d":-4.72,"dc":"g"},{"i":56,"u":4.07,"uc":"g","d":-6.67,"dc":"g"},{"i":57,"u":5.74,"uc":"g","d":-5.19,"dc":"r"},{"i":58,"u":7.13,"uc":"g","d":-2.78,"dc":"r"},{"i":59,"u":6.30,"uc":"r","d":-1.94,"dc":"r"},
      {"i":60,"u":5.19,"uc":"r","d":-2.78,"dc":"g"},{"i":61,"u":3.80,"uc":"r","d":-3.52,"dc":"g"},{"i":62,"u":3.82,"uc":"g","d":-3.50,"dc":"r"},{"i":63,"u":4.63,"uc":"g","d":-3.06,"dc":"r"},{"i":64,"u":4.91,"uc":"g","d":-2.22,"dc":"r"},{"i":65,"u":4.35,"uc":"r","d":-1.39,"dc":"r"},{"i":66,"u":4.07,"uc":"r","d":-1.41,"dc":"g"},{"i":67,"u":3.52,"uc":"r","d":-1.11,"dc":"r"},{"i":68,"u":3.24,"uc":"r","d":-1.09,"dc":"r"},{"i":69,"u":3.20,"uc":"r","d":-0.83,"dc":"r"},
      {"i":70,"u":2.78,"uc":"r","d":-1.67,"dc":"g"},{"i":71,"u":2.76,"uc":"r","d":-2.78,"dc":"g"},{"i":72,"u":3.00,"uc":"g","d":-2.90,"dc":"g"},{"i":73,"u":3.80,"uc":"g","d":-3.33,"dc":"g"},{"i":74,"u":4.07,"uc":"g","d":-4.17,"dc":"g"},{"i":75,"u":4.35,"uc":"g","d":-4.72,"dc":"g"},{"i":76,"u":4.91,"uc":"g","d":-5.28,"dc":"g"},{"i":77,"u":5.74,"uc":"g","d":-6.11,"dc":"g"},{"i":78,"u":6.57,"uc":"g","d":-5.56,"dc":"r"},{"i":79,"u":6.90,"uc":"g","d":-4.81,"dc":"r"},
      {"i":80,"u":6.85,"uc":"r","d":-3.61,"dc":"r"},{"i":81,"u":6.00,"uc":"r","d":-1.94,"dc":"r"},{"i":82,"u":5.20,"uc":"r","d":-2.00,"dc":"g"},{"i":83,"u":4.07,"uc":"r","d":-2.50,"dc":"g"},{"i":84,"u":4.10,"uc":"g","d":-2.31,"dc":"r"},{"i":85,"u":4.35,"uc":"g","d":-1.80,"dc":"r"},{"i":86,"u":4.07,"uc":"r","d":-1.67,"dc":"r"},{"i":87,"u":3.90,"uc":"r","d":-1.80,"dc":"g"},{"i":88,"u":3.80,"uc":"r","d":-2.31,"dc":"g"},{"i":89,"u":3.90,"uc":"g","d":-2.50,"dc":"g"},
      {"i":90,"u":4.00,"uc":"g","d":-2.45,"dc":"r"},{"i":91,"u":3.80,"uc":"r","d":-2.87,"dc":"g"},{"i":92,"u":4.00,"uc":"g","d":-2.80,"dc":"r"},{"i":93,"u":4.20,"uc":"g","d":-3.06,"dc":"g"},{"i":94,"u":4.50,"uc":"g","d":-3.61,"dc":"g"},{"i":95,"u":4.90,"uc":"g","d":-4.26,"dc":"g"},{"i":96,"u":5.20,"uc":"g","d":-4.54,"dc":"g"},{"i":97,"u":5.30,"uc":"g","d":-4.30,"dc":"r"},{"i":98,"u":5.46,"uc":"g","d":-3.80,"dc":"r"},{"i":99,"u":5.74,"uc":"g","d":-2.70,"dc":"r"},
      {"i":100,"u":6.02,"uc":"g","d":-1.76,"dc":"r"},{"i":101,"u":5.19,"uc":"r","d":-3.89,"dc":"g"},{"i":102,"u":5.74,"uc":"g","d":-7.13,"dc":"g"},{"i":103,"u":6.57,"uc":"g","d":-8.70,"dc":"g"},{"i":104,"u":8.24,"uc":"g","d":-7.78,"dc":"r"},{"i":105,"u":9.35,"uc":"g","d":-4.72,"dc":"r"},{"i":106,"u":9.71,"uc":"g","d":-4.54,"dc":"r"},{"i":107,"u":9.35,"uc":"r","d":-5.00,"dc":"g"},{"i":108,"u":8.24,"uc":"r","d":-4.26,"dc":"r"},{"i":109,"u":7.13,"uc":"r","d":-2.87,"dc":"r"},
      {"i":110,"u":7.10,"uc":"r","d":-2.41,"dc":"r"},{"i":111,"u":6.85,"uc":"r","d":-1.94,"dc":"r"},{"i":112,"u":6.90,"uc":"g","d":-1.67,"dc":"r"},{"i":113,"u":5.74,"uc":"r","d":-1.94,"dc":"g"},{"i":114,"u":5.70,"uc":"r","d":-1.48,"dc":"r"},{"i":115,"u":4.63,"uc":"r","d":-1.30,"dc":"r"},{"i":116,"u":4.65,"uc":"g","d":-1.48,"dc":"g"},{"i":117,"u":4.07,"uc":"r","d":-1.30,"dc":"r"},{"i":118,"u":4.10,"uc":"g","d":-1.48,"dc":"g"},{"i":119,"u":3.52,"uc":"r","d":-0.56,"dc":"r"},
      {"i":120,"u":3.50,"uc":"r","d":-1.11,"dc":"g"},{"i":121,"u":1.76,"uc":"r","d":-2.87,"dc":"g"},{"i":122,"u":0.56,"uc":"r","d":-5.19,"dc":"g"},{"i":123,"u":1.57,"uc":"g","d":-7.22,"dc":"g"},{"i":124,"u":3.52,"uc":"g","d":-7.50,"dc":"g"},{"i":125,"u":4.91,"uc":"g","d":-7.55,"dc":"g"},{"i":126,"u":5.74,"uc":"g","d":-8.15,"dc":"g"},{"i":127,"u":6.48,"uc":"g","d":-8.89,"dc":"g"},{"i":128,"u":7.41,"uc":"g","d":-9.54,"dc":"g"},{"i":129,"u":8.24,"uc":"g","d":-9.73,"dc":"g"},
      {"i":130,"u":8.80,"uc":"g","d":-8.70,"dc":"r"},{"i":131,"u":8.52,"uc":"r","d":-7.50,"dc":"r"},{"i":132,"u":8.80,"uc":"g","d":-5.46,"dc":"r"},{"i":133,"u":8.52,"uc":"r","d":-3.52,"dc":"r"},{"i":134,"u":7.41,"uc":"r","d":-1.48,"dc":"r"},{"i":135,"u":6.02,"uc":"r","d":-0.56,"dc":"r"},{"i":136,"u":4.63,"uc":"r","d":-0.09,"dc":"r"},{"i":137,"u":3.52,"uc":"r","d":-0.28,"dc":"g"},{"i":138,"u":2.96,"uc":"r","d":-0.74,"dc":"g"},{"i":139,"u":2.00,"uc":"r","d":-0.28,"dc":"r"},
      {"i":140,"u":2.05,"uc":"g","d":-0.83,"dc":"g"},{"i":141,"u":2.10,"uc":"g","d":null,"dc":"g"},{"i":142,"u":2.13,"uc":"g","d":null,"dc":"g"}
    ]
  },
  "vconcat": [
    {
      "width": 1222,
      "height": 484,
      "resolve": {"scale": {"shape": "independent", "stroke": "independent"}},
      "encoding": {
        "y": {"type": "quantitative", "scale": {"domain": [2613.52, 2700.25], "nice": false, "zero": false}, "axis": {"orient": "right", "title": null, "values": [2619.115, 2624.85, 2630.585, 2636.32, 2642.055, 2647.79, 2653.525, 2659.26, 2664.995, 2670.73, 2676.465, 2682.2, 2687.935, 2693.67, 2699.405], "format": ".3f", "grid": true, "tickSize": 4, "labelPadding": 1, "labelOverlap": false, "labelFlush": false, "labelBound": false, "labelSeparation": 0}}
      },
      "layer": [
        {
          "data": {"name": "bid"},
          "mark": {"type": "rule", "color": "#b40000", "strokeWidth": 1},
          "encoding": {"y": {"field": "p", "type": "quantitative"}}
        },
        {
          "data": {"name": "candles"},
          "mark": {"type": "rule", "color": "black", "strokeWidth": 1},
          "encoding": {
            "x": {"field": "i", "type": "quantitative", "scale": {"domain": [-0.2875, 152.46], "nice": false, "zero": false}, "axis": {"title": null, "values": [4,8,12,16,20,24,28,32,36,40,44,48,52,56,60,64,68,72,76,80,84,88,92,96,100,104,108,112,116,120,124,128,132,136,140,144,148,152], "grid": true, "labels": false, "ticks": false, "domain": false}},
            "y": {"field": "l", "type": "quantitative"},
            "y2": {"field": "h"}
          }
        },
        {
          "data": {"name": "candles"},
          "mark": {"type": "bar", "orient": "vertical", "size": 4, "stroke": "black", "strokeWidth": 1},
          "encoding": {
            "x": {"field": "i", "type": "quantitative"},
            "y": {"field": "o", "type": "quantitative"},
            "y2": {"field": "c"},
            "fill": {"condition": {"test": "datum.c >= datum.o", "value": "white"}, "value": "black"}
          }
        },
        {
          "data": {"name": "alligator"},
          "mark": {"type": "line", "strokeWidth": 2},
          "encoding": {
            "x": {"field": "i", "type": "quantitative"},
            "y": {"field": "v", "type": "quantitative"},
            "color": {"field": "line", "type": "nominal", "scale": {"domain": ["jaw", "teeth", "lips"], "range": ["#0a4fd8", "#ff0000", "#32cd32"]}, "legend": null}
          }
        },
        {
          "data": {"name": "fractals"},
          "mark": {"type": "point", "filled": true, "color": "#1e1e1e", "opacity": 1, "size": 200, "clip": true},
          "encoding": {
            "x": {"field": "i", "type": "quantitative"},
            "y": {"field": "p", "type": "quantitative"},
            "shape": {"field": "dir", "type": "nominal", "scale": {"domain": ["up", "down"], "range": ["M0,-0.85 L0.85,0.75 L0,0.3 L-0.85,0.75 Z", "M0,0.85 L0.85,-0.75 L0,-0.3 L-0.85,-0.75 Z"]}, "legend": null}
          }
        },
        {
          "data": {"name": "signals"},
          "mark": {"type": "point", "fill": "white", "fillOpacity": 1, "opacity": 1, "size": 324, "strokeWidth": 1.5},
          "encoding": {
            "x": {"field": "i", "type": "quantitative"},
            "y": {"field": "p", "type": "quantitative"},
            "shape": {"field": "dir", "type": "nominal", "scale": {"domain": ["buy", "sell"], "range": ["M0,-1 L0.9,-0.05 L0.42,-0.05 L0.42,1 L-0.42,1 L-0.42,-0.05 L-0.9,-0.05 Z", "M0,1 L0.9,0.05 L0.42,0.05 L0.42,-1 L-0.42,-1 L-0.42,0.05 L-0.9,0.05 Z"]}, "legend": null},
            "stroke": {"field": "dir", "type": "nominal", "scale": {"domain": ["buy", "sell"], "range": ["#6fd24a", "#ff2a00"]}, "legend": null}
          }
        },
        {
          "data": {"name": "bid"},
          "mark": {"type": "point", "filled": true, "color": "#c80000", "opacity": 1, "size": 8100, "shape": "M0,-0.11 L1,-0.11 L1,0.11 L0,0.11 Z"},
          "encoding": {
            "x": {"datum": 152.71, "type": "quantitative"},
            "y": {"field": "p", "type": "quantitative"}
          }
        },
        {
          "data": {"name": "bid"},
          "mark": {"type": "text", "align": "left", "baseline": "middle", "color": "white", "font": "DejaVu Sans Condensed, Liberation Sans, sans-serif", "fontSize": 10},
          "encoding": {
            "x": {"datum": 153.05, "type": "quantitative"},
            "y": {"field": "p", "type": "quantitative"},
            "text": {"field": "p", "type": "quantitative", "format": ".3f"}
          }
        }
      ]
    },
    {
      "width": 1222,
      "height": 101,
      "title": {"text": "AO -5.3966", "anchor": "start", "offset": -14, "dx": 5, "font": "DejaVu Sans Condensed, Liberation Sans, sans-serif", "fontSize": 10, "fontWeight": "normal", "color": "black"},
      "data": {"name": "ao"},
      "mark": {"type": "bar", "orient": "vertical", "size": 4},
      "encoding": {
        "x": {"field": "i", "type": "quantitative", "scale": {"domain": [-0.2875, 152.46], "nice": false, "zero": false}, "axis": {"title": null, "values": [4,8,12,16,20,24,28,32,36,40,44,48,52,56,60,64,68,72,76,80,84,88,92,96,100,104,108,112,116,120,124,128,132,136,140,144,148,152], "grid": true, "labels": false, "ticks": false, "domain": false}},
        "y": {"field": "v", "type": "quantitative", "scale": {"domain": [-27.23, 23.70], "nice": false, "zero": false}, "axis": {"orient": "right", "title": null, "values": [-22.9375, 0, 19.724], "format": ".4f", "tickSize": 4, "labelPadding": 1, "labelOverlap": false, "labelFlush": false, "grid": true, "gridColor": {"condition": {"test": "datum.value === 0", "value": "#d0d0d0"}, "value": "transparent"}, "labelOffset": {"condition": {"test": "datum.value > 1", "value": -4}, "value": 0}, "labelBaseline": {"condition": {"test": "datum.value < -1", "value": "top"}, "value": "middle"}}},
        "y2": {"datum": 0},
        "color": {"field": "c", "type": "nominal", "scale": {"domain": ["g", "r"], "range": ["#008000", "#ff0000"]}, "legend": null}
      }
    },
    {
      "width": 1222,
      "height": 100,
      "title": {"text": "AC 1.21098", "anchor": "start", "offset": -14, "dx": 5, "font": "DejaVu Sans Condensed, Liberation Sans, sans-serif", "fontSize": 10, "fontWeight": "normal", "color": "black"},
      "data": {"name": "ac"},
      "mark": {"type": "bar", "orient": "vertical", "size": 4},
      "encoding": {
        "x": {"field": "i", "type": "quantitative", "scale": {"domain": [-0.2875, 152.46], "nice": false, "zero": false}, "axis": {"title": null, "values": [4,8,12,16,20,24,28,32,36,40,44,48,52,56,60,64,68,72,76,80,84,88,92,96,100,104,108,112,116,120,124,128,132,136,140,144,148,152], "grid": true, "labels": false, "ticks": false, "domain": false}},
        "y": {"field": "v", "type": "quantitative", "scale": {"domain": [-9.18, 7.21], "nice": false, "zero": false}, "axis": {"orient": "right", "title": null, "values": [-7.65998, 0, 5.85859], "format": ".5f", "tickSize": 4, "labelPadding": 1, "labelOverlap": false, "labelFlush": false, "grid": true, "gridColor": {"condition": {"test": "datum.value === 0", "value": "#d0d0d0"}, "value": "transparent"}, "labelOffset": {"condition": {"test": "datum.value > 1", "value": -3}, "value": 0}, "labelBaseline": {"condition": {"test": "datum.value < -1", "value": "top"}, "value": "middle"}}},
        "y2": {"datum": 0},
        "color": {"field": "c", "type": "nominal", "scale": {"domain": ["g", "r"], "range": ["#008000", "#ff0000"]}, "legend": null}
      }
    },
    {
      "width": 1222,
      "height": 84,
      "title": {"text": "Gator(13,8,5) 2.1320 0.0000", "anchor": "start", "offset": -14, "dx": 5, "font": "DejaVu Sans Condensed, Liberation Sans, sans-serif", "fontSize": 10, "fontWeight": "normal", "color": "black"},
      "data": {"name": "gator"},
      "encoding": {
        "x": {"field": "i", "type": "quantitative", "scale": {"domain": [-0.2875, 152.46], "nice": false, "zero": false}, "axis": {"title": null, "values": [0,4,8,12,16,20,24,28,32,36,40,44,48,52,56,60,64,68,72,76,80,84,88,92,96,100,104,108,112,116,120,124,128,132,136,140,144,148,152], "grid": true, "gridColor": {"condition": {"test": "datum.value === 0", "value": "transparent"}, "value": "#d0d0d0"}, "domain": false, "ticks": true, "tickSize": 3, "tickColor": {"condition": {"test": "datum.value % 8 === 0 && datum.value <= 136", "value": "black"}, "value": "transparent"}, "labelPadding": 2, "labelAlign": "left", "labelOverlap": false, "labelFlush": false, "labelExpr": "(datum.value % 8 === 0 && datum.value <= 136) ? ['6 Jan 2025','6 Jan 18:00','7 Jan 03:00','7 Jan 11:00','7 Jan 19:00','8 Jan 04:00','8 Jan 12:00','8 Jan 20:00','9 Jan 05:00','9 Jan 13:00','9 Jan 21:00','10 Jan 06:00','10 Jan 14:00','10 Jan 22:00','13 Jan 07:00','13 Jan 15:00','13 Jan 23:00','14 Jan 08:00'][datum.value / 8] : ''"}}
      },
      "layer": [
        {
          "mark": {"type": "bar", "orient": "vertical", "size": 4},
          "encoding": {
            "y": {"field": "u", "type": "quantitative", "scale": {"domain": [-11.75, 11.58], "nice": false, "zero": false}, "axis": {"orient": "right", "title": null, "values": [-9.7325, 0, 9.7132], "format": ".4f", "tickSize": 4, "labelPadding": 1, "labelOverlap": false, "labelFlush": false, "grid": true, "gridColor": {"condition": {"test": "datum.value === 0", "value": "#d0d0d0"}, "value": "transparent"}}},
            "y2": {"datum": 0},
            "color": {"field": "uc", "type": "nominal", "scale": {"domain": ["g", "r"], "range": ["#008000", "#ff0000"]}, "legend": null}
          }
        },
        {
          "mark": {"type": "bar", "orient": "vertical", "size": 4},
          "encoding": {
            "y": {"field": "d", "type": "quantitative"},
            "y2": {"datum": 0},
            "color": {"field": "dc", "type": "nominal"}
          }
        }
      ]
    }
  ]
}
